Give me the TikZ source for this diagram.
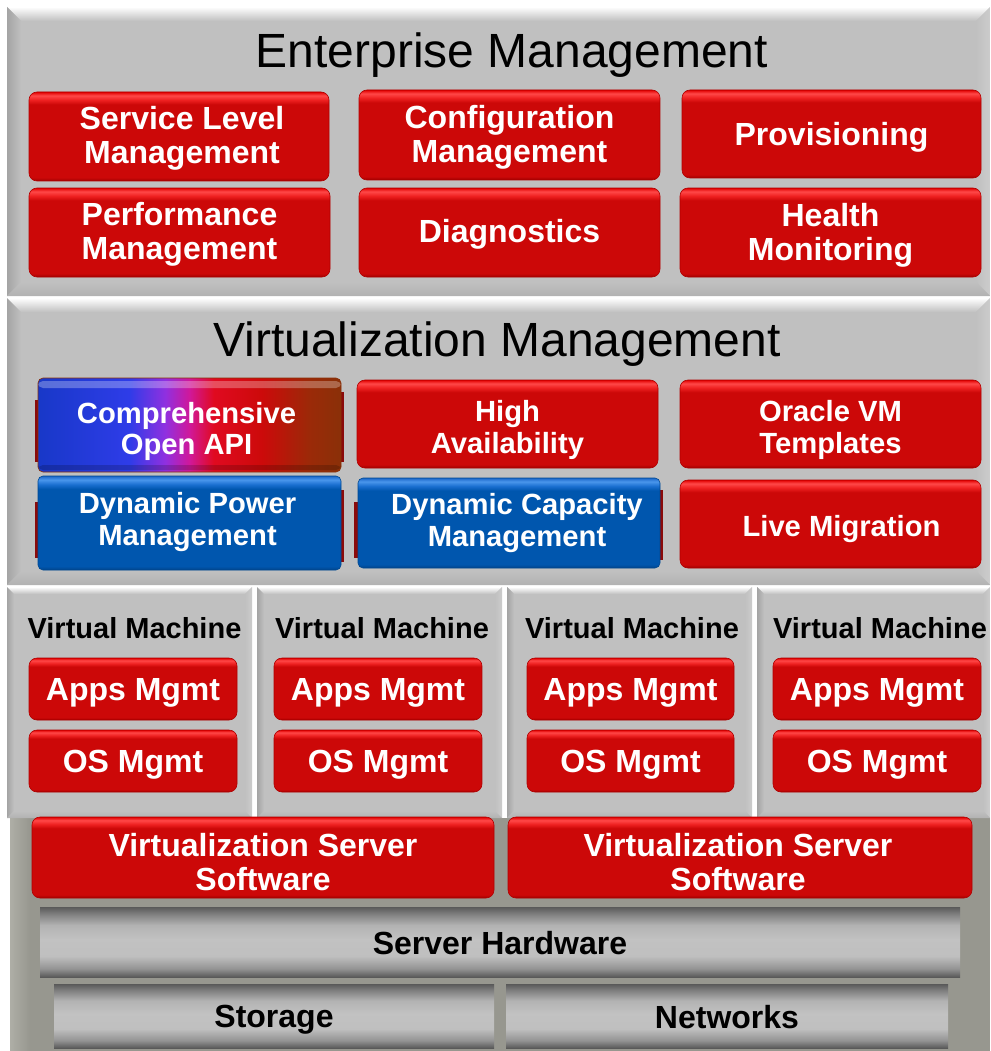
\documentclass[tikz,border=0pt]{standalone}
\usepackage{fontspec}
\setmainfont{Liberation Sans}
\definecolor{panelgray}{HTML}{C0C0C0}
\definecolor{panelleft}{HTML}{A4A4A4}
\definecolor{panelright}{HTML}{CCCCCC}
\definecolor{panelbot}{HTML}{B2B2B2}
\definecolor{basegray}{HTML}{97978F}
\definecolor{baselight}{HTML}{AEAEA6}
\definecolor{rA}{HTML}{A00000}
\definecolor{rB}{HTML}{CC0808}
\definecolor{rC}{HTML}{EE2020}
\definecolor{rD}{HTML}{FF4848}
\definecolor{rE}{HTML}{E00000}
\definecolor{rEdge}{HTML}{B00000}
\definecolor{bA}{HTML}{00448C}
\definecolor{bB}{HTML}{0056AE}
\definecolor{bC}{HTML}{1A6FD0}
\definecolor{bD}{HTML}{4A96EC}
\definecolor{bE}{HTML}{1A66C8}
\definecolor{bEdge}{HTML}{004890}
\definecolor{tabred}{HTML}{8A0A0A}
\definecolor{g1}{HTML}{1838C8}
\definecolor{g2}{HTML}{2E3CE8}
\definecolor{g3}{HTML}{9030E0}
\definecolor{g4}{HTML}{D0189A}
\definecolor{g5}{HTML}{E00A20}
\definecolor{g6}{HTML}{CC0A0A}
\definecolor{g7}{HTML}{9A2A08}
\definecolor{g8}{HTML}{8A3008}
\definecolor{m1}{gray}{0.35}
\definecolor{m2}{gray}{0.58}
\definecolor{m3}{gray}{0.75}
\definecolor{m4}{gray}{0.76}
\definecolor{m5}{gray}{0.70}
\definecolor{m6}{gray}{0.50}
\pgfdeclareverticalshading{redbtn}{100bp}{color(0bp)=(rA); color(25bp)=(rA); color(27bp)=(rB); color(68bp)=(rB); color(70.5bp)=(rC); color(73bp)=(rD); color(75bp)=(rE); color(100bp)=(rE)}
\pgfdeclareverticalshading{bluebtn}{100bp}{color(0bp)=(bA); color(25bp)=(bA); color(27bp)=(bB); color(68bp)=(bB); color(70.5bp)=(bC); color(73bp)=(bD); color(75bp)=(bE); color(100bp)=(bE)}
\pgfdeclarehorizontalshading{apigrad}{100bp}{color(0bp)=(g1); color(25bp)=(g1); color(40bp)=(g2); color(46bp)=(g3); color(50bp)=(g4); color(54bp)=(g5); color(62bp)=(g6); color(70bp)=(g7); color(75bp)=(g8); color(100bp)=(g8)}
\pgfdeclareverticalshading{metalbar}{100bp}{color(0bp)=(m1); color(25bp)=(m1); color(31bp)=(m2); color(40bp)=(m3); color(52bp)=(m4); color(62bp)=(m5); color(70bp)=(m6); color(75bp)=(m1); color(100bp)=(m1)}
\tikzset{
  redbox/.style={shading=redbtn, shade, rounded corners=8pt, draw=rEdge, line width=0.6pt, inner sep=0pt},
  bluebox/.style={shading=bluebtn, shade, rounded corners=5pt, draw=bEdge, line width=0.6pt, inner sep=0pt},
  apibox/.style={shading=apigrad, shade, rounded corners=5pt, draw=g8, line width=0.6pt, inner sep=0pt,
    path picture={
      \fill[white,opacity=0.28] ([yshift=-3pt]path picture bounding box.north west) rectangle ([yshift=-10pt]path picture bounding box.north east);
      \fill[black,opacity=0.18] ([yshift=2pt]path picture bounding box.south west) rectangle ([yshift=7pt]path picture bounding box.south east);
    }},
  metalbox/.style={shading=metalbar, shade, inner sep=0pt},
  btntext/.style={text=white, font=\bfseries\fontsize{32}{34}\selectfont, align=center, inner sep=0pt},
  vtext/.style={btntext, font=\bfseries\fontsize{29.2}{31.5}\selectfont},
  metaltext/.style={text=black, font=\bfseries\fontsize{32}{34}\selectfont, inner sep=0pt},
  vmlabel/.style={font=\bfseries\fontsize{29}{31}\selectfont, text=black},
  title/.style={font=\fontsize{48}{56}\selectfont, text=black, anchor=base},
  redtab/.style={fill=tabred}
}
% #1 box style, #2 text style, #3 name, #4-#7 x1 y1 x2 y2, #8 text shift, #9 text
\newcommand\bx[9]{%
  \node[#1, minimum width={(#6-#4)*1pt}, minimum height={(#7-#5)*1pt}] (#3) at ({(#4+#6)/2},{(#5+#7)/2}) {};
  \node[#2] (#3t) at ([#8]#3.center) {#9};}
\newcommand\bevpanel[5]{%
  \fill[panelgray] (#1,#2) rectangle (#3,#4);
  \shade[top color=white, bottom color=panelgray] (#1,#2) -- (#3,#2) -- ({#3-#5},{#2+#5}) -- ({#1+#5},{#2+#5}) -- cycle;
  \shade[left color=panelleft, right color=panelgray] (#1,#2) -- ({#1+#5},{#2+#5}) -- ({#1+#5},{#4-#5}) -- (#1,#4) -- cycle;
  \shade[left color=panelgray, right color=panelright] (#3,#2) -- ({#3-#5},{#2+#5}) -- ({#3-#5},{#4-#5}) -- (#3,#4) -- cycle;
  \shade[top color=panelgray, bottom color=panelbot] (#1,#4) -- ({#1+#5},{#4-#5}) -- ({#3-#5},{#4-#5}) -- (#3,#4) -- cycle;
}
\begin{document}
\begin{tikzpicture}[x=1pt,y=-1pt]
\useasboundingbox (0,0) rectangle (990,1051);
\fill[white] (0,0) rectangle (990,1051);

% ---------- bottom base ----------
\fill[basegray] (10,818) rectangle (990,1051);
\shade[left color=baselight, right color=basegray] (10,818) rectangle (30,1051);

% ---------- panels ----------
\bevpanel{7}{7}{990}{296}{14}
\bevpanel{7}{298}{990}{585}{14}
\bevpanel{7}{587}{252}{818}{7}
\bevpanel{257}{587}{502}{818}{7}
\bevpanel{507}{587}{752}{818}{7}
\bevpanel{757}{587}{990}{818}{7}

% ---------- Enterprise Management ----------
\node[title] (entitle) at (512,68) {Enterprise Management};
\bx{redbox}{btntext}{slm}{29}{92}{329}{181}{xshift=3pt,yshift=-2pt}{Service Level\\Management}
\bx{redbox}{btntext}{cfg}{359}{90}{660}{180}{yshift=-2.5pt}{Configuration\\Management}
\bx{redbox}{btntext}{prov}{682}{90}{981}{178}{yshift=-3pt}{Provisioning}
\bx{redbox}{btntext}{perf}{29}{188}{330}{277}{yshift=-2pt}{Performance\\Management}
\bx{redbox}{btntext}{diag}{359}{188}{660}{277}{yshift=-2pt}{Diagnostics}
\bx{redbox}{btntext}{health}{680}{188}{981}{277}{yshift=-2.5pt}{Health\\Monitoring}

% ---------- Virtualization Management ----------
\node[title] (vttitle) at (497,356) {Virtualization Management};
% red tabs peeking behind the blue boxes
\fill[redtab] (35,400) rectangle (41,462);
\fill[redtab] (338,392) rectangle (344,462);
\fill[redtab] (35,502) rectangle (41,558);
\fill[redtab] (338,490) rectangle (344,562);
\fill[redtab] (354,502) rectangle (360,558);
\fill[redtab] (657,490) rectangle (663,560);
\bx{apibox}{vtext}{api}{38}{378}{341}{472}{xshift=-3pt,yshift=-6.5pt}{Comprehensive\\Open API}
\bx{redbox}{vtext}{ha}{357}{380}{658}{468}{yshift=-6pt}{High\\Availability}
\bx{redbox}{vtext}{tmpl}{680}{380}{981}{468}{yshift=-6pt}{Oracle VM\\Templates}
\bx{bluebox}{vtext}{dpm}{38}{476}{341}{570}{xshift=-2pt,yshift=1pt}{Dynamic Power\\Management}
\bx{bluebox}{vtext}{dcm}{358}{478}{660}{568}{xshift=8pt}{Dynamic Capacity\\Management}
\bx{redbox}{vtext}{lm}{680}{480}{981}{568}{xshift=11pt,yshift=-5pt}{Live Migration}

% ---------- Virtual Machines ----------
\node[vmlabel] (vm1) at (134.5,628) {Virtual Machine};
\node[vmlabel] (vm2) at (382,628) {Virtual Machine};
\node[vmlabel] (vm3) at (632,628) {Virtual Machine};
\node[vmlabel] (vm4) at (880,628) {Virtual Machine};
\bx{redbox}{btntext}{apps1}{29}{658}{237}{720}{yshift=-4pt}{Apps Mgmt}
\bx{redbox}{btntext}{os1}{29}{730}{237}{792}{yshift=-4pt}{OS Mgmt}
\bx{redbox}{btntext}{apps2}{274}{658}{482}{720}{yshift=-4pt}{Apps Mgmt}
\bx{redbox}{btntext}{os2}{274}{730}{482}{792}{yshift=-4pt}{OS Mgmt}
\bx{redbox}{btntext}{apps3}{527}{658}{734}{720}{yshift=-4pt}{Apps Mgmt}
\bx{redbox}{btntext}{os3}{527}{730}{734}{792}{yshift=-4pt}{OS Mgmt}
\bx{redbox}{btntext}{apps4}{773}{658}{981}{720}{yshift=-4pt}{Apps Mgmt}
\bx{redbox}{btntext}{os4}{773}{730}{981}{792}{yshift=-4pt}{OS Mgmt}

% ---------- Server software / hardware ----------
\bx{redbox}{btntext}{vss1}{32}{817}{494}{898}{yshift=-4.5pt}{Virtualization Server\\Software}
\bx{redbox}{btntext}{vss2}{508}{817}{972}{898}{xshift=-2pt,yshift=-4.5pt}{Virtualization Server\\Software}
\bx{metalbox}{metaltext}{hw}{40}{907}{960}{977}{yshift=-1pt}{Server Hardware}
\bx{metalbox}{metaltext}{stor}{54}{984}{494}{1048}{yshift=-4pt}{Storage}
\bx{metalbox}{metaltext}{net}{506}{984}{948}{1048}{yshift=-1pt}{Networks}
\end{tikzpicture}
\end{document}
